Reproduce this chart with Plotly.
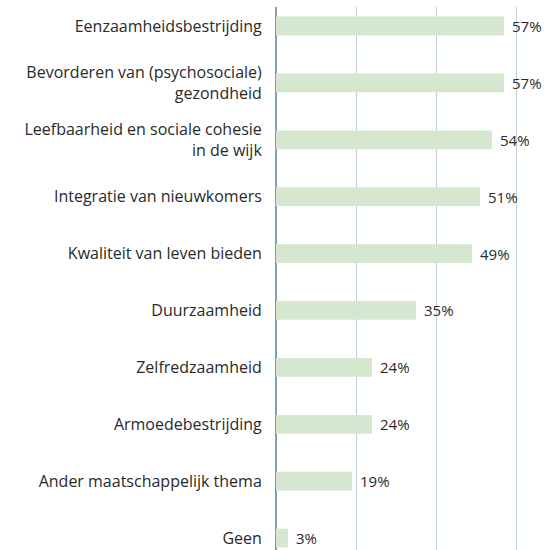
import plotly.graph_objects as go

categories = [
    "Eenzaamheidsbestrijding",
    "Bevorderen van (psychosociale)<br>gezondheid",
    "Leefbaarheid en sociale cohesie<br>in de wijk",
    "Integratie van nieuwkomers",
    "Kwaliteit van leven bieden",
    "Duurzaamheid",
    "Zelfredzaamheid",
    "Armoedebestrijding",
    "Ander maatschappelijk thema",
    "Geen",
]
values = [57, 57, 54, 51, 49, 35, 24, 24, 19, 3]
labels = [f"{v}%" for v in values]

FONT = "Open Sans, sans-serif"

fig = go.Figure()
fig.add_trace(go.Bar(
    x=values,
    y=categories,
    orientation="h",
    marker=dict(color="#d5e8cf", line=dict(width=0)),
    text=labels,
    textposition="outside",
    constraintext="none",
    texttemplate="\u2009\u2009%{text}",
    textfont=dict(family=FONT, size=15, color="#2a2a2a"),
    cliponaxis=False,
    width=0.33,
    hoverinfo="skip",
))

fig.update_layout(
    width=548,
    height=550,
    margin=dict(l=276, r=0, t=7, b=0),
    paper_bgcolor="white",
    plot_bgcolor="white",
    showlegend=False,
    font=dict(family=FONT, size=16, color="#2a2a2a"),
    xaxis=dict(
        range=[0, 68],
        tickvals=[0, 20, 40, 60],
        showticklabels=False,
        showgrid=True,
        gridcolor="#bccfe0",
        gridwidth=1,
        zeroline=True,
        zerolinecolor="#7f9fb8",
        zerolinewidth=1.5,
        showline=False,
        fixedrange=True,
    ),
    yaxis=dict(
        categoryorder="array",
        categoryarray=categories,
        range=[9.21, -0.334],
        ticks="outside",
        ticklen=10,
        tickcolor="rgba(0,0,0,0)",
        tickfont=dict(family=FONT, size=16, color="#2a2a2a"),
        showgrid=False,
        showline=False,
        fixedrange=True,
    ),
)

fig.write_html(
    "out.html",
    config={"displayModeBar": False},
    post_script="document.body.style.margin='0';document.body.style.overflow='hidden';",
)
